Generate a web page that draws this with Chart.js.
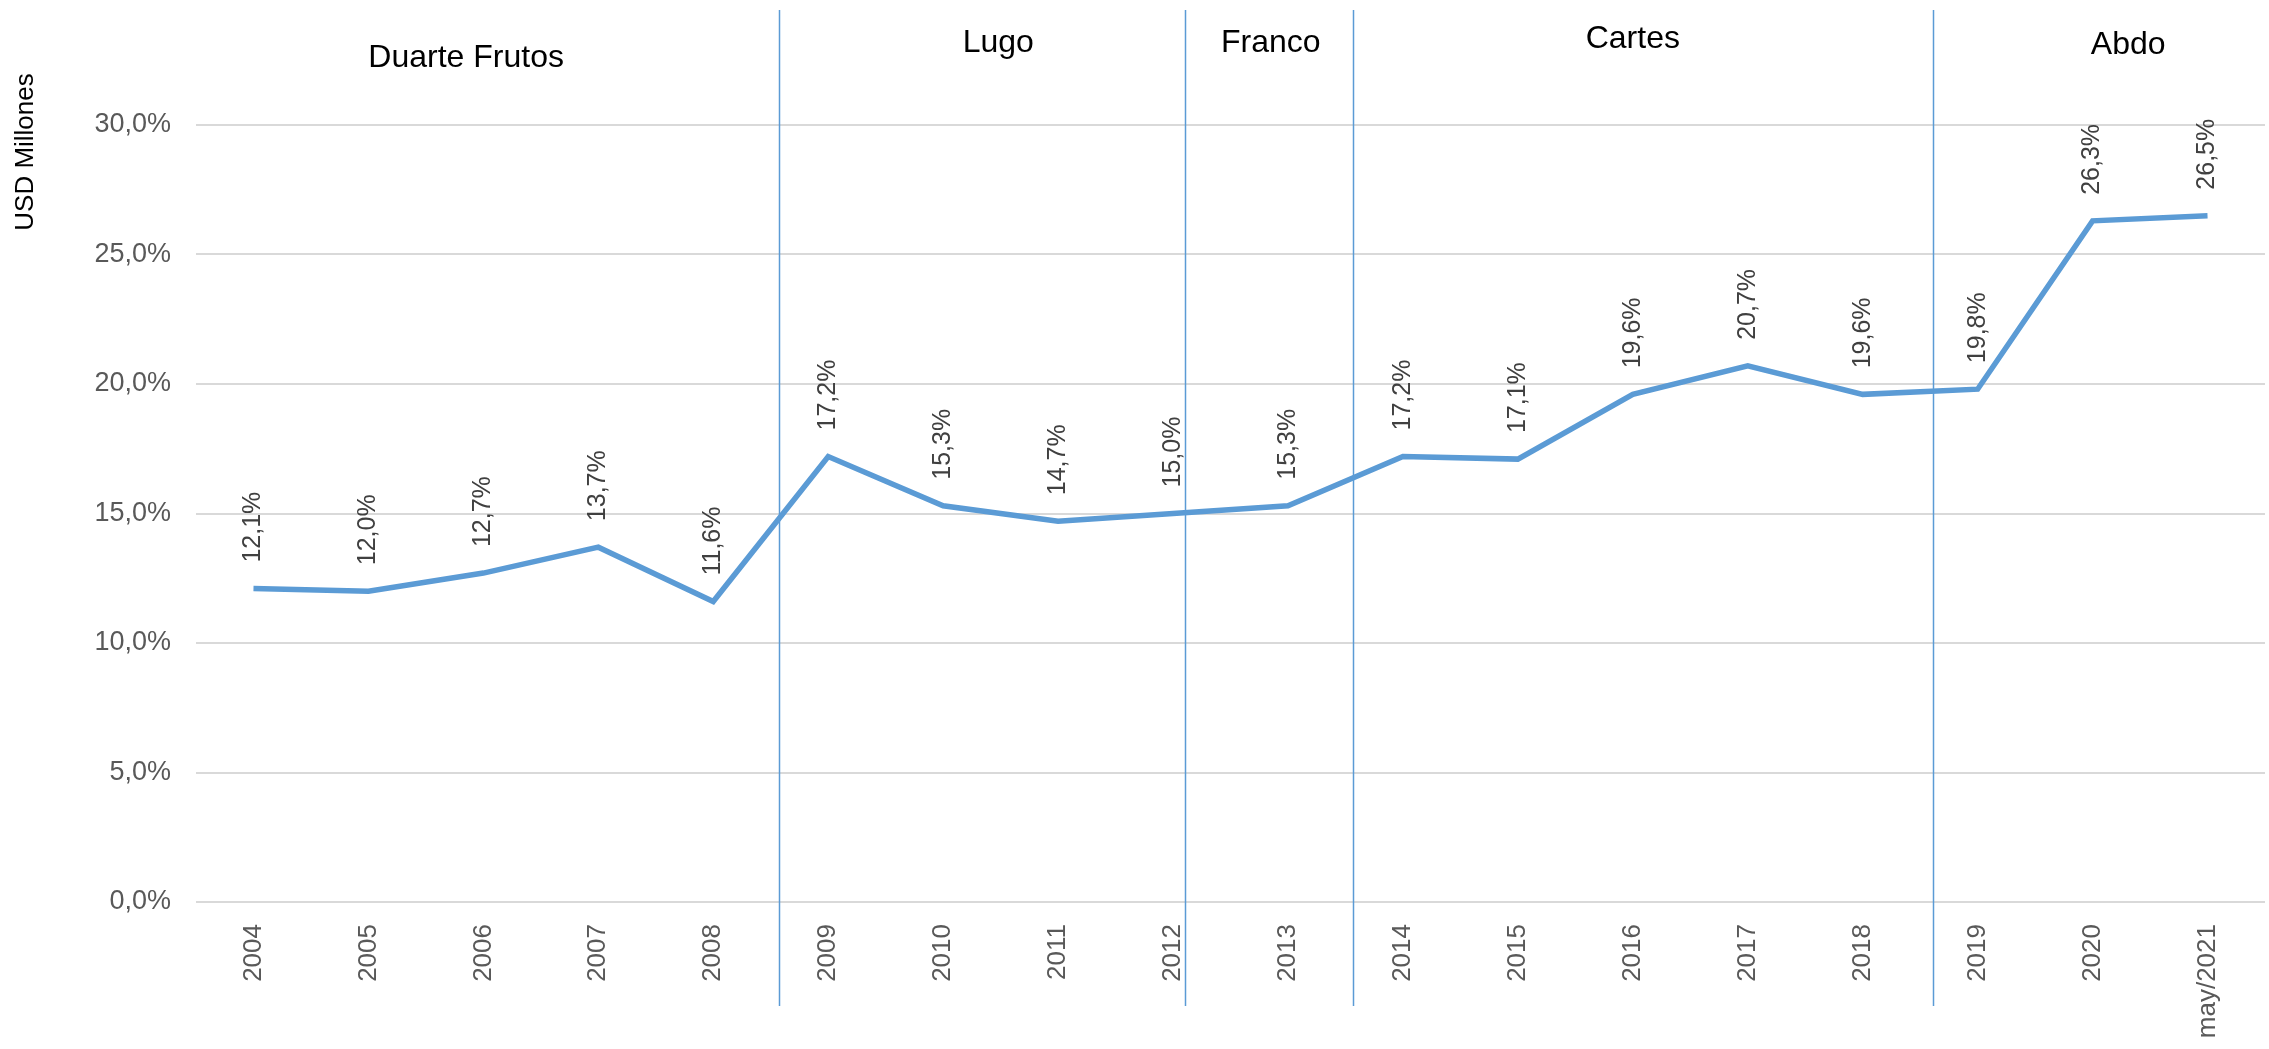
<!DOCTYPE html>
<html>
<head>
<meta charset="utf-8">
<script src="https://cdn.jsdelivr.net/npm/chart.js@4"></script>
<style>
  html, body { margin: 0; padding: 0; background: #fff; }
  #wrap { width: 2269px; height: 1049px; }
</style>
</head>
<body>
<div id="wrap"><canvas id="grafico" width="2269" height="1049"></canvas></div>
<script>
// Datos
const anios = ['2004', '2005', '2006', '2007', '2008', '2009', '2010', '2011', '2012',
  '2013', '2014', '2015', '2016', '2017', '2018', '2019', '2020', 'may/2021'];
const valores = [12.1, 12.0, 12.7, 13.7, 11.6, 17.2, 15.3, 14.7, 15.0,
  15.3, 17.2, 17.1, 19.6, 20.7, 19.6, 19.8, 26.3, 26.5];
const yTicks = [0, 5, 10, 15, 20, 25, 30];
const gobiernos = ['Duarte Frutos', 'Lugo', 'Franco', 'Cartes', 'Abdo'];
// cambios de gobierno, en unidades de categoria
const cortes = [4.57, 8.1, 9.57, 14.61];

// layout de textos
const gobX = [1.85, 6.48, 8.85, 12.0, 16.31];
const gobY = [58, 43, 43, 39, 45];
const FUENTE = "'Liberation Sans', Arial, sans-serif";

const pct = v => v.toFixed(1).replace('.', ',') + '%';

function xPix(scale, idx) {
  const i = Math.floor(idx);
  const f = idx - i;
  const a = scale.getPixelForValue(i);
  const b = scale.getPixelForValue(i + 1);
  return a + (b - a) * f;
}

const extras = {
  id: 'extras',
  afterDatasetsDraw(chart) {
    const ctx = chart.ctx;
    const meta = chart.getDatasetMeta(0);
    ctx.save();
    ctx.fillStyle = '#404040';
    ctx.font = '25px ' + FUENTE;
    ctx.textAlign = 'left';
    ctx.textBaseline = 'middle';
    meta.data.forEach((p, i) => {
      ctx.save();
      ctx.translate(p.x, p.y - 26);
      ctx.rotate(-Math.PI / 2);
      ctx.fillText(pct(valores[i]), 0, 0);
      ctx.restore();
    });
    ctx.restore();
  },
  afterDraw(chart) {
    const ctx = chart.ctx;
    const xs = chart.scales.x;
    ctx.save();
    ctx.strokeStyle = '#5B9BD5';
    ctx.lineWidth = 1.5;
    cortes.forEach(c => {
      const x = Math.round(xPix(xs, c)) + 0.5;
      ctx.beginPath();
      ctx.moveTo(x, 10);
      ctx.lineTo(x, 1006);
      ctx.stroke();
    });
    ctx.fillStyle = '#000';
    ctx.font = '32px ' + FUENTE;
    ctx.textAlign = 'center';
    ctx.textBaseline = 'middle';
    gobiernos.forEach((g, i) => {
      ctx.fillText(g, xPix(xs, gobX[i]), gobY[i]);
    });
    // titulo eje y
    ctx.font = '26px ' + FUENTE;
    ctx.translate(26, 152);
    ctx.rotate(-Math.PI / 2);
    ctx.fillText('USD Millones', 0, 0);
    ctx.restore();
  }
};

new Chart(document.getElementById('grafico'), {
  type: 'line',
  data: {
    labels: anios,
    datasets: [{
      data: valores,
      borderColor: '#5B9BD5',
      borderWidth: 5.5,
      pointRadius: 0,
      tension: 0,
      fill: false
    }]
  },
  options: {
    responsive: false,
    animation: false,
    layout: { padding: { top: 125, right: 4, left: 0, bottom: 0 } },
    plugins: { legend: { display: false }, tooltip: { enabled: false } },
    scales: {
      x: {
        offset: true,
        grid: { display: false, offset: true },
        border: { display: false },
        ticks: {
          color: '#595959',
          font: { size: 26, family: FUENTE },
          minRotation: 90,
          maxRotation: 90,
          padding: 14,
          autoSkip: false
        },
        afterFit(s) { s.height = 1049 - 902; }
      },
      y: {
        min: 0,
        max: 30,
        afterBuildTicks(s) { s.ticks = yTicks.map(v => ({ value: v })); },
        grid: { color: '#D9D9D9', lineWidth: 2, drawTicks: false },
        border: { display: false },
        ticks: {
          color: '#595959',
          font: { size: 27, family: FUENTE },
          padding: 25,
          callback: v => pct(v)
        },
        afterFit(s) { s.width = 196; }
      }
    }
  },
  plugins: [extras]
});
</script>
</body>
</html>
